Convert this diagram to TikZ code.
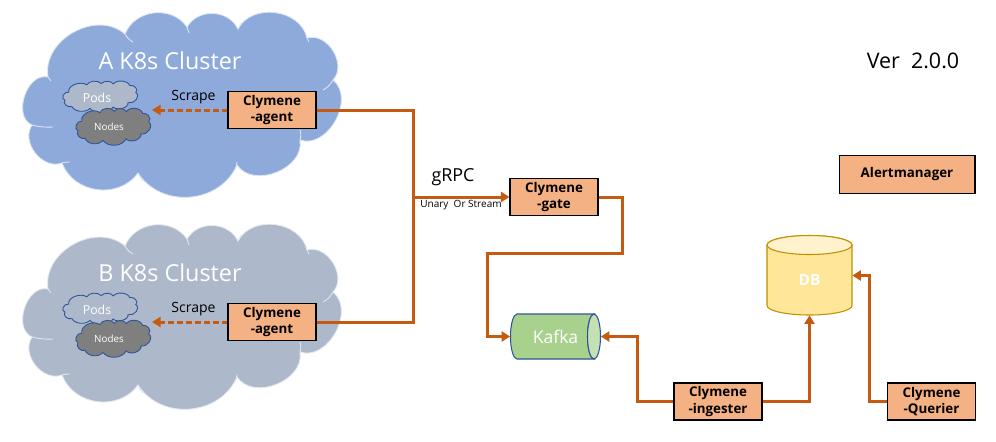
\documentclass[tikz,border=0pt]{standalone}
\usepackage{fontspec}
\setmainfont{Open Sans}
\usepackage{xcolor}
\usetikzlibrary{arrows.meta}
\definecolor{linkor}{HTML}{C55A11}
\definecolor{boxor}{HTML}{F4B183}
\definecolor{cloudA}{HTML}{8EAADB}
\definecolor{cloudB}{HTML}{ADB9CA}
\definecolor{cloudN}{HTML}{7F7F7F}
\definecolor{edgeblue}{HTML}{2F5597}
\definecolor{kafkabody}{HTML}{A9D18E}
\definecolor{kafkaend}{HTML}{C5E0B4}
\definecolor{dbbody}{HTML}{FFE699}
\definecolor{dbend}{HTML}{FFF2CC}
\definecolor{dbedge}{HTML}{BF9000}
\tikzset{
  compbox/.style={draw=black, fill=boxor, line width=0.6pt, minimum width=1.76cm, minimum height=0.74cm,
    inner sep=0pt, align=center, font=\fontsize{7.6}{9.4}\selectfont\bfseries},
  link/.style={draw=linkor, line width=1.7pt},
  linkarrow/.style={link, -{Triangle[length=1.7mm,width=2mm]}},
  scrapearrow/.style={linkarrow, dash pattern=on 3.4pt off 1.7pt},
  pics/cloudblob/.style={code={
    \path[pic actions, looseness=1.1] (-133,-29) to[bend left=70] (-56,-72) to[bend left=62] (6,-79)
      to[bend left=62] (57,-77) to[bend left=70] (126,-68) to[bend left=75] (152,-26)
      to[bend left=80] (119,34) to[bend left=78] (56,59) to[bend left=62] (-43,67)
      to[bend left=62] (-119,57) to[bend left=72] (-149,19) to[bend left=85] cycle;
  }},
  cloudmark/.style={draw=white!70!cloudA, line width=0.5pt},
}
\newcommand{\cloudmarks}[2]{%
  \draw[cloudmark] (#1-133,#2-29) to[bend left=10] (#1-130,#2-25);
  \draw[cloudmark] (#1-56,#2-72) to[bend right=15] (#1-48,#2-64);
  \draw[cloudmark] (#1+6,#2-79) to[bend right=10] (#1+8,#2-73);
  \draw[cloudmark] (#1+57,#2-77) to[bend right=10] (#1+60,#2-83);
  \draw[cloudmark] (#1+126,#2-68) to[bend right=10] (#1+128,#2-64);
  \draw[cloudmark] (#1+152,#2-26) to[bend left=15] (#1+142,#2-16);
  \draw[cloudmark] (#1+119,#2+34) to[bend right=15] (#1+119,#2+24);
  \draw[cloudmark] (#1+56,#2+56) to[bend left=10] (#1+54,#2+64);
  \draw[cloudmark] (#1-43,#2+67) to[bend right=15] (#1-38,#2+75);
  \draw[cloudmark] (#1-119,#2+57) to[bend left=10] (#1-111,#2+56);
  \draw[cloudmark] (#1-149,#2+19) to[bend right=8] (#1-128,#2+21);
}
\begin{document}
\begin{tikzpicture}[x=0.02cm,y=-0.02cm]
  \useasboundingbox (0,0) rectangle (996,441);

  \pic[fill=cloudA, draw=white!70!cloudA, line width=0.5pt] at (181,106) {cloudblob};
  \pic[fill=cloudB, draw=white!70!cloudB, line width=0.5pt] at (181,318) {cloudblob};
  \cloudmarks{181}{106}
  \cloudmarks{181}{318}
  \node[text=white, font=\fontsize{13.3}{15}\selectfont] (titleA) at (170,61) {A K8s Cluster};
  \node[text=white, font=\fontsize{13.3}{15}\selectfont] (titleB) at (170,273) {B K8s Cluster};

  \foreach \name/\ypos in {A/0,B/212}{
    \pic[fill=cloudB, draw=edgeblue, line width=0.5pt, xscale=0.235, yscale=0.17] at (100,97+\ypos) {cloudblob};
    \pic[fill=cloudN, draw=edgeblue, line width=0.5pt, xscale=0.235, yscale=0.2] at (113,127+\ypos) {cloudblob};
    \node[text=white, font=\fontsize{7}{8}\selectfont] (pods\name) at (97,98+\ypos) {Pods};
    \node[text=white, font=\fontsize{5.6}{7}\selectfont] (nodes\name) at (109,127+\ypos) {Nodes};
    \coordinate (scrape\name) at (152,110+\ypos);
  }

  \node[compbox] (agentA) at (272,110) {Clymene\\-agent};
  \node[compbox] (agentB) at (272,322) {Clymene\\-agent};
  \node[compbox] (gate) at (554,197) {Clymene\\-gate};
  \node[compbox] (ingester) at (718,401.5) {Clymene\\-ingester};
  \node[compbox] (querier) at (931.5,401.5) {Clymene\\-Querier};
  \node[compbox, minimum width=2.72cm, minimum height=0.76cm] (alert) at (907,174.5) {Alertmanager};

  \path[fill=kafkabody, draw=edgeblue, line width=0.6pt] (517,359) arc[start angle=90, end angle=270, x radius=6.5, y radius=22.5]
    -- (594,314) arc[start angle=270, end angle=90, x radius=6.5, y radius=22.5] -- cycle;
  \path[fill=kafkaend, draw=edgeblue, line width=0.6pt] (594,336.5) ellipse [x radius=6.5, y radius=22.5];
  \node[text=white, font=\fontsize{10}{13}\selectfont, minimum width=1.8cm, minimum height=0.9cm, inner sep=0pt] (kafka) at (555.5,336.5) {Kafka\hspace{5pt}};

  \path[fill=dbbody, draw=dbedge, line width=0.6pt] (767,245) -- (767,305.5) arc[start angle=180, end angle=0, x radius=42.5, y radius=9.5]
    -- (852,245) arc[start angle=0, end angle=-180, x radius=42.5, y radius=9.5] -- cycle;
  \path[fill=dbend, draw=dbedge, line width=0.6pt] (809.5,245) ellipse [x radius=42.5, y radius=9.5];
  \node[text=white, font=\fontsize{8.8}{10}\selectfont\bfseries, minimum width=1.7cm, minimum height=1.58cm, inner sep=0pt] (db) at (809.5,275.5) {\smash{\raisebox{-5.7pt}{DB}}};

  \coordinate (joint) at (413,197);
  \draw[link] (agentA.east) -- (413,110) |- (agentB.east);
  \draw[linkarrow] (joint) -- (gate.west);
  \draw[linkarrow] (gate.east) -- (622,197) |- (487,253) |- (kafka.west);
  \draw[linkarrow] (ingester.west) -- (637,401.5) |- (kafka.east);
  \draw[linkarrow] (ingester.east) -| (db.south);
  \draw[linkarrow] (querier.west) -- (869,401.5) |- (db.east);
  \draw[scrapearrow] (agentA.west) -- (scrapeA);
  \draw[scrapearrow] (agentB.west) -- (scrapeB);

  \node[font=\fontsize{8}{9}\selectfont] (scrapetextA) at (193.5,97) {Scrape};
  \node[font=\fontsize{8}{9}\selectfont] (scrapetextB) at (193.5,309) {Scrape};
  \node[font=\fontsize{10.2}{12}\selectfont] (grpc) at (453,177) {gRPC};
  \node[font=\fontsize{5.7}{7}\selectfont] (unary) at (461,205.5) {Unary\ \ Or Stream};
  \node[font=\fontsize{12.2}{15}\selectfont] (version) at (913,61) {Ver\ \ 2.0.0};
\end{tikzpicture}
\end{document}
